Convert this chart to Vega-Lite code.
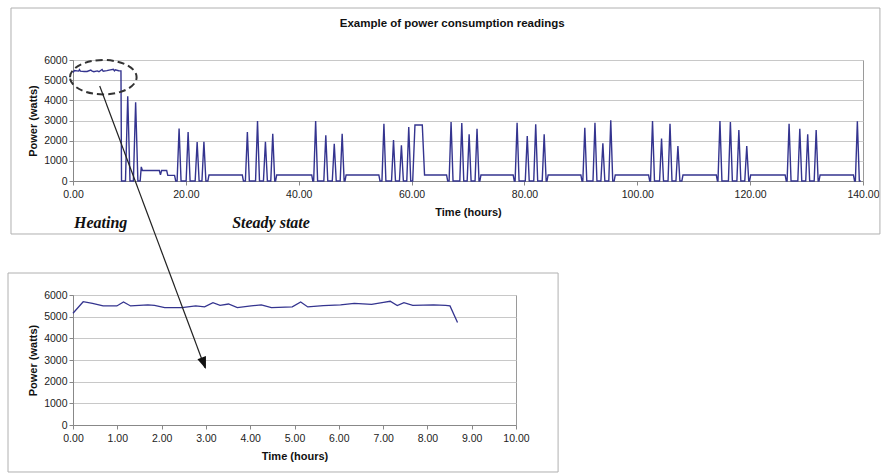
{
  "$schema": "https://vega.github.io/schema/vega-lite/v6.json",
  "padding": {"left": 7, "top": 7, "right": 0, "bottom": 0},
  "background": "white",
  "spacing": 114,
  "bounds": "flush",
  "config": {
    "font": "Liberation Sans",
    "view": {"stroke": "#9a9a9a", "strokeWidth": 1},
    "axis": {
      "labelFont": "Liberation Sans", "labelFontSize": 10.5, "labelColor": "#222", "labelOverlap": false,
      "titleFont": "Liberation Sans", "titleFontSize": 11, "titleFontWeight": "bold", "titleColor": "#111",
      "domainColor": "#888", "tickColor": "#888", "gridColor": "#c8c8c8", "tickSize": 4
    }
  },
  "datasets": {
    "top": [
      {"t": 0, "p": 5380}, {"t": 0.25, "p": 5480}, {"t": 1.0, "p": 5450}, {"t": 1.15, "p": 5520}, {"t": 1.3, "p": 5450},
      {"t": 2.0, "p": 5430}, {"t": 2.5, "p": 5430}, {"t": 3.15, "p": 5500}, {"t": 3.4, "p": 5450}, {"t": 3.7, "p": 5420},
      {"t": 4.3, "p": 5460}, {"t": 4.6, "p": 5420}, {"t": 5.15, "p": 5530}, {"t": 5.35, "p": 5440}, {"t": 6.0, "p": 5470},
      {"t": 6.4, "p": 5500}, {"t": 7.15, "p": 5540}, {"t": 7.35, "p": 5460}, {"t": 7.5, "p": 5510}, {"t": 8.1, "p": 5470},
      {"t": 8.5, "p": 5460},
      {"t": 8.6, "p": 0},
      {"t": 9.3, "p": 0}, {"t": 9.7, "p": 4200}, {"t": 10.1, "p": 0},
      {"t": 10.7, "p": 0}, {"t": 11.1, "p": 3900}, {"t": 11.5, "p": 0},
      {"t": 11.9, "p": 0}, {"t": 12.1, "p": 700}, {"t": 12.3, "p": 520}, {"t": 15.3, "p": 520}, {"t": 15.5, "p": 300}, {"t": 15.7, "p": 520},
      {"t": 16.6, "p": 520}, {"t": 16.8, "p": 280}, {"t": 18.0, "p": 280}, {"t": 18.2, "p": 0},
      {"t": 18.45, "p": 0}, {"t": 18.8, "p": 2600}, {"t": 19.15, "p": 0},
      {"t": 20.05, "p": 0}, {"t": 20.4, "p": 2430}, {"t": 20.75, "p": 0},
      {"t": 21.65, "p": 0}, {"t": 22.0, "p": 1930}, {"t": 22.35, "p": 0},
      {"t": 22.85, "p": 0}, {"t": 23.2, "p": 1950}, {"t": 23.55, "p": 0},
      {"t": 23.9, "p": 0}, {"t": 24.1, "p": 300}, {"t": 30.0, "p": 300}, {"t": 30.2, "p": 0},
      {"t": 30.55, "p": 0}, {"t": 30.9, "p": 2430}, {"t": 31.25, "p": 0},
      {"t": 32.35, "p": 0}, {"t": 32.7, "p": 2975}, {"t": 33.05, "p": 0},
      {"t": 33.75, "p": 0}, {"t": 34.1, "p": 1950}, {"t": 34.45, "p": 0},
      {"t": 35.05, "p": 0}, {"t": 35.4, "p": 2345}, {"t": 35.75, "p": 0},
      {"t": 35.9, "p": 0}, {"t": 36.1, "p": 300}, {"t": 42.3, "p": 300}, {"t": 42.5, "p": 0},
      {"t": 42.65, "p": 0}, {"t": 43.0, "p": 2975}, {"t": 43.35, "p": 0},
      {"t": 44.45, "p": 0}, {"t": 44.8, "p": 2265}, {"t": 45.15, "p": 0},
      {"t": 45.95, "p": 0}, {"t": 46.3, "p": 1850}, {"t": 46.65, "p": 0},
      {"t": 47.35, "p": 0}, {"t": 47.7, "p": 2345}, {"t": 48.05, "p": 0},
      {"t": 48.2, "p": 0}, {"t": 48.4, "p": 300}, {"t": 54.2, "p": 300}, {"t": 54.4, "p": 0},
      {"t": 54.75, "p": 0}, {"t": 55.1, "p": 2840}, {"t": 55.45, "p": 0},
      {"t": 56.45, "p": 0}, {"t": 56.8, "p": 2030}, {"t": 57.15, "p": 0},
      {"t": 57.85, "p": 0}, {"t": 58.2, "p": 1770}, {"t": 58.55, "p": 0},
      {"t": 59.15, "p": 0}, {"t": 59.5, "p": 2680}, {"t": 59.85, "p": 0},
      {"t": 60.2, "p": 0}, {"t": 60.6, "p": 2780}, {"t": 61.9, "p": 2780}, {"t": 62.3, "p": 300}, {"t": 66.2, "p": 300}, {"t": 66.4, "p": 0},
      {"t": 66.65, "p": 0}, {"t": 67.0, "p": 2925}, {"t": 67.35, "p": 0},
      {"t": 68.55, "p": 0}, {"t": 68.9, "p": 2880}, {"t": 69.25, "p": 0},
      {"t": 69.85, "p": 0}, {"t": 70.2, "p": 2315}, {"t": 70.55, "p": 0},
      {"t": 71.25, "p": 0}, {"t": 71.6, "p": 2595}, {"t": 71.95, "p": 0},
      {"t": 72.1, "p": 0}, {"t": 72.3, "p": 300}, {"t": 78.0, "p": 300}, {"t": 78.2, "p": 0},
      {"t": 78.35, "p": 0}, {"t": 78.7, "p": 2890}, {"t": 79.05, "p": 0},
      {"t": 80.15, "p": 0}, {"t": 80.5, "p": 2230}, {"t": 80.85, "p": 0},
      {"t": 81.65, "p": 0}, {"t": 82.0, "p": 2810}, {"t": 82.35, "p": 0},
      {"t": 83.15, "p": 0}, {"t": 83.5, "p": 2315}, {"t": 83.85, "p": 0},
      {"t": 84.0, "p": 0}, {"t": 84.2, "p": 300}, {"t": 90.0, "p": 300}, {"t": 90.2, "p": 0},
      {"t": 90.35, "p": 0}, {"t": 90.7, "p": 2645}, {"t": 91.05, "p": 0},
      {"t": 92.15, "p": 0}, {"t": 92.5, "p": 2890}, {"t": 92.85, "p": 0},
      {"t": 93.55, "p": 0}, {"t": 93.9, "p": 1870}, {"t": 94.25, "p": 0},
      {"t": 94.95, "p": 0}, {"t": 95.3, "p": 3010}, {"t": 95.65, "p": 0},
      {"t": 95.9, "p": 0}, {"t": 96.1, "p": 300}, {"t": 102.0, "p": 300}, {"t": 102.2, "p": 0},
      {"t": 102.35, "p": 0}, {"t": 102.7, "p": 2975}, {"t": 103.05, "p": 0},
      {"t": 103.95, "p": 0}, {"t": 104.3, "p": 2100}, {"t": 104.65, "p": 0},
      {"t": 105.45, "p": 0}, {"t": 105.8, "p": 2840}, {"t": 106.15, "p": 0},
      {"t": 106.85, "p": 0}, {"t": 107.2, "p": 1735}, {"t": 107.55, "p": 0},
      {"t": 107.9, "p": 0}, {"t": 108.1, "p": 300}, {"t": 114.0, "p": 300}, {"t": 114.2, "p": 0},
      {"t": 114.3, "p": 0}, {"t": 114.65, "p": 2975}, {"t": 115.0, "p": 0},
      {"t": 116.15, "p": 0}, {"t": 116.5, "p": 2925}, {"t": 116.85, "p": 0},
      {"t": 117.65, "p": 0}, {"t": 118.0, "p": 2530}, {"t": 118.35, "p": 0},
      {"t": 119.05, "p": 0}, {"t": 119.4, "p": 1735}, {"t": 119.75, "p": 0},
      {"t": 119.9, "p": 0}, {"t": 120.1, "p": 300}, {"t": 126.2, "p": 300}, {"t": 126.4, "p": 0},
      {"t": 126.55, "p": 0}, {"t": 126.9, "p": 2840}, {"t": 127.25, "p": 0},
      {"t": 128.45, "p": 0}, {"t": 128.8, "p": 2595}, {"t": 129.15, "p": 0},
      {"t": 129.85, "p": 0}, {"t": 130.2, "p": 2315}, {"t": 130.55, "p": 0},
      {"t": 131.35, "p": 0}, {"t": 131.7, "p": 2530}, {"t": 132.05, "p": 0},
      {"t": 132.2, "p": 0}, {"t": 132.4, "p": 300}, {"t": 138.3, "p": 300}, {"t": 138.5, "p": 0},
      {"t": 138.65, "p": 0}, {"t": 139.0, "p": 2960}, {"t": 139.35, "p": 0}, {"t": 139.6, "p": 0}
    ],
    "zoom": [
      {"t": 0, "p": 5160}, {"t": 0.23, "p": 5690}, {"t": 0.44, "p": 5615}, {"t": 0.68, "p": 5495}, {"t": 0.99, "p": 5495},
      {"t": 1.14, "p": 5680}, {"t": 1.3, "p": 5495}, {"t": 1.69, "p": 5540}, {"t": 1.84, "p": 5525}, {"t": 2.07, "p": 5420},
      {"t": 2.46, "p": 5420}, {"t": 2.77, "p": 5495}, {"t": 2.97, "p": 5450}, {"t": 3.16, "p": 5645}, {"t": 3.32, "p": 5525},
      {"t": 3.51, "p": 5585}, {"t": 3.71, "p": 5420}, {"t": 4.02, "p": 5495}, {"t": 4.25, "p": 5540}, {"t": 4.48, "p": 5420},
      {"t": 4.95, "p": 5450}, {"t": 5.14, "p": 5680}, {"t": 5.3, "p": 5450}, {"t": 5.65, "p": 5510}, {"t": 6.04, "p": 5540},
      {"t": 6.35, "p": 5615}, {"t": 6.74, "p": 5570}, {"t": 7.01, "p": 5660}, {"t": 7.16, "p": 5710}, {"t": 7.32, "p": 5510},
      {"t": 7.47, "p": 5645}, {"t": 7.67, "p": 5525}, {"t": 8.14, "p": 5540}, {"t": 8.41, "p": 5525}, {"t": 8.51, "p": 5495},
      {"t": 8.68, "p": 4730}
    ],
    "topFrame": [{"x1": -10.99, "x2": 143.0, "y1": 8578, "y2": -2628}],
    "topTexts": [
      {"t": 67.2, "p": 7785, "label": "Example of power consumption readings"}
    ],
    "topNotes": [
      {"t": 0.18, "p": -2083, "label": "Heating"},
      {"t": 28.2, "p": -2083, "label": "Steady state"}
    ],
    "ellipse": [{"t": 5.37, "p": 5147}],
    "bottomFrame": [{"x1": -1.467, "x2": 10.95, "y1": 7015, "y2": -2169}],
    "arrow": [{"t1": 0.603, "p1": 15646, "t2": 2.98, "p2": 2640}],
    "arrowHead": [{"t": 3.0, "p": 2590}]
  },
  "vconcat": [
    {
      "width": 790,
      "height": 121,
      "layer": [
        {
          "data": {"name": "top"},
          "mark": {"type": "line", "color": "#34348f", "strokeWidth": 1.4, "strokeJoin": "miter"},
          "encoding": {
            "x": {"field": "t", "type": "quantitative", "title": "Time (hours)",
              "scale": {"domain": [0, 140], "nice": false, "zero": false},
              "axis": {"values": [0, 20, 40, 60, 80, 100, 120, 140], "format": ".2f", "grid": false, "labelPadding": 4, "titlePadding": 7, "labelFlush": false}},
            "y": {"field": "p", "type": "quantitative", "title": "Power (watts)",
              "scale": {"domain": [0, 6000], "nice": false, "zero": false},
              "axis": {"values": [0, 1000, 2000, 3000, 4000, 5000, 6000], "format": "d", "grid": true, "labelPadding": 2, "titlePadding": 5, "labelFlush": false}}
          }
        },
        {
          "data": {"name": "topFrame"},
          "mark": {"type": "rect", "fill": null, "fillOpacity": 0, "stroke": "#b0b0b0", "strokeWidth": 1, "clip": false},
          "encoding": {
            "x": {"field": "x1", "type": "quantitative", "title": "Time (hours)", "scale": {"domain": [0, 140], "nice": false, "zero": false},
              "axis": {"values": [0, 20, 40, 60, 80, 100, 120, 140], "format": ".2f", "grid": false, "labelPadding": 4, "titlePadding": 7, "labelFlush": false}},
            "x2": {"field": "x2"},
            "y": {"field": "y1", "type": "quantitative", "title": "Power (watts)", "scale": {"domain": [0, 6000], "nice": false, "zero": false},
              "axis": {"values": [0, 1000, 2000, 3000, 4000, 5000, 6000], "format": "d", "grid": true, "labelPadding": 2, "titlePadding": 5, "labelFlush": false}},
            "y2": {"field": "y2"}
          }
        },
        {
          "data": {"name": "topTexts"},
          "mark": {"type": "text", "font": "Liberation Sans", "fontWeight": "bold", "fontSize": 11.5, "color": "#111", "align": "center", "baseline": "middle", "clip": false},
          "encoding": {
            "x": {"field": "t", "type": "quantitative", "title": "Time (hours)", "scale": {"domain": [0, 140], "nice": false, "zero": false},
              "axis": {"values": [0, 20, 40, 60, 80, 100, 120, 140], "format": ".2f", "grid": false, "labelPadding": 4, "titlePadding": 7, "labelFlush": false}},
            "y": {"field": "p", "type": "quantitative", "title": "Power (watts)", "scale": {"domain": [0, 6000], "nice": false, "zero": false},
              "axis": {"values": [0, 1000, 2000, 3000, 4000, 5000, 6000], "format": "d", "grid": true, "labelPadding": 2, "titlePadding": 5, "labelFlush": false}},
            "text": {"field": "label"}
          }
        },
        {
          "data": {"name": "topNotes"},
          "mark": {"type": "text", "font": "Liberation Serif", "fontWeight": "bold", "fontStyle": "italic", "fontSize": 16, "color": "#111", "align": "left", "baseline": "middle", "clip": false},
          "encoding": {
            "x": {"field": "t", "type": "quantitative", "title": "Time (hours)", "scale": {"domain": [0, 140], "nice": false, "zero": false},
              "axis": {"values": [0, 20, 40, 60, 80, 100, 120, 140], "format": ".2f", "grid": false, "labelPadding": 4, "titlePadding": 7, "labelFlush": false}},
            "y": {"field": "p", "type": "quantitative", "title": "Power (watts)", "scale": {"domain": [0, 6000], "nice": false, "zero": false},
              "axis": {"values": [0, 1000, 2000, 3000, 4000, 5000, 6000], "format": "d", "grid": true, "labelPadding": 2, "titlePadding": 5, "labelFlush": false}},
            "text": {"field": "label"}
          }
        },
        {
          "data": {"name": "ellipse"},
          "mark": {"type": "point", "shape": "M -1 0 C -1 -0.285 -0.552 -0.516 0 -0.516 C 0.552 -0.516 1 -0.285 1 0 C 1 0.285 0.552 0.516 0 0.516 C -0.552 0.516 -1 0.285 -1 0 Z", "size": 4436, "filled": false, "stroke": "#333", "strokeWidth": 2, "strokeDash": [7, 4], "opacity": 1, "clip": false},
          "encoding": {
            "x": {"field": "t", "type": "quantitative", "title": "Time (hours)", "scale": {"domain": [0, 140], "nice": false, "zero": false},
              "axis": {"values": [0, 20, 40, 60, 80, 100, 120, 140], "format": ".2f", "grid": false, "labelPadding": 4, "titlePadding": 7, "labelFlush": false}},
            "y": {"field": "p", "type": "quantitative", "title": "Power (watts)", "scale": {"domain": [0, 6000], "nice": false, "zero": false},
              "axis": {"values": [0, 1000, 2000, 3000, 4000, 5000, 6000], "format": "d", "grid": true, "labelPadding": 2, "titlePadding": 5, "labelFlush": false}}
          }
        }
      ]
    },
    {
      "width": 443,
      "height": 130,
      "layer": [
        {
          "data": {"name": "zoom"},
          "mark": {"type": "line", "color": "#34348f", "strokeWidth": 1.3},
          "encoding": {
            "x": {"field": "t", "type": "quantitative", "title": "Time (hours)",
              "scale": {"domain": [0, 10], "nice": false, "zero": false},
              "axis": {"values": [0, 1, 2, 3, 4, 5, 6, 7, 8, 9, 10], "format": ".2f", "grid": false, "labelPadding": 4, "titlePadding": 7, "labelFlush": false}},
            "y": {"field": "p", "type": "quantitative", "title": "Power (watts)",
              "scale": {"domain": [0, 6000], "nice": false, "zero": false},
              "axis": {"values": [0, 1000, 2000, 3000, 4000, 5000, 6000], "format": "d", "grid": true, "labelPadding": 2, "titlePadding": 5, "labelFlush": false}}
          }
        },
        {
          "data": {"name": "bottomFrame"},
          "mark": {"type": "rect", "fill": null, "fillOpacity": 0, "stroke": "#b0b0b0", "strokeWidth": 1, "clip": false},
          "encoding": {
            "x": {"field": "x1", "type": "quantitative", "title": "Time (hours)", "scale": {"domain": [0, 10], "nice": false, "zero": false},
              "axis": {"values": [0, 1, 2, 3, 4, 5, 6, 7, 8, 9, 10], "format": ".2f", "grid": false, "labelPadding": 4, "titlePadding": 7, "labelFlush": false}},
            "x2": {"field": "x2"},
            "y": {"field": "y1", "type": "quantitative", "title": "Power (watts)", "scale": {"domain": [0, 6000], "nice": false, "zero": false},
              "axis": {"values": [0, 1000, 2000, 3000, 4000, 5000, 6000], "format": "d", "grid": true, "labelPadding": 2, "titlePadding": 5, "labelFlush": false}},
            "y2": {"field": "y2"}
          }
        },
        {
          "data": {"name": "arrow"},
          "mark": {"type": "rule", "color": "#222", "strokeWidth": 1.2, "clip": false},
          "encoding": {
            "x": {"field": "t1", "type": "quantitative", "title": "Time (hours)", "scale": {"domain": [0, 10], "nice": false, "zero": false},
              "axis": {"values": [0, 1, 2, 3, 4, 5, 6, 7, 8, 9, 10], "format": ".2f", "grid": false, "labelPadding": 4, "titlePadding": 7, "labelFlush": false}},
            "x2": {"field": "t2"},
            "y": {"field": "p1", "type": "quantitative", "title": "Power (watts)", "scale": {"domain": [0, 6000], "nice": false, "zero": false},
              "axis": {"values": [0, 1000, 2000, 3000, 4000, 5000, 6000], "format": "d", "grid": true, "labelPadding": 2, "titlePadding": 5, "labelFlush": false}},
            "y2": {"field": "p2"}
          }
        },
        {
          "data": {"name": "arrowHead"},
          "mark": {"type": "point", "shape": "M 0 0 L 0.38 1 L -0.38 1 Z", "size": 576, "filled": true, "color": "#111", "opacity": 1, "angle": 159.4, "clip": false},
          "encoding": {
            "x": {"field": "t", "type": "quantitative", "title": "Time (hours)", "scale": {"domain": [0, 10], "nice": false, "zero": false},
              "axis": {"values": [0, 1, 2, 3, 4, 5, 6, 7, 8, 9, 10], "format": ".2f", "grid": false, "labelPadding": 4, "titlePadding": 7, "labelFlush": false}},
            "y": {"field": "p", "type": "quantitative", "title": "Power (watts)", "scale": {"domain": [0, 6000], "nice": false, "zero": false},
              "axis": {"values": [0, 1000, 2000, 3000, 4000, 5000, 6000], "format": "d", "grid": true, "labelPadding": 2, "titlePadding": 5, "labelFlush": false}}
          }
        }
      ]
    }
  ]
}
